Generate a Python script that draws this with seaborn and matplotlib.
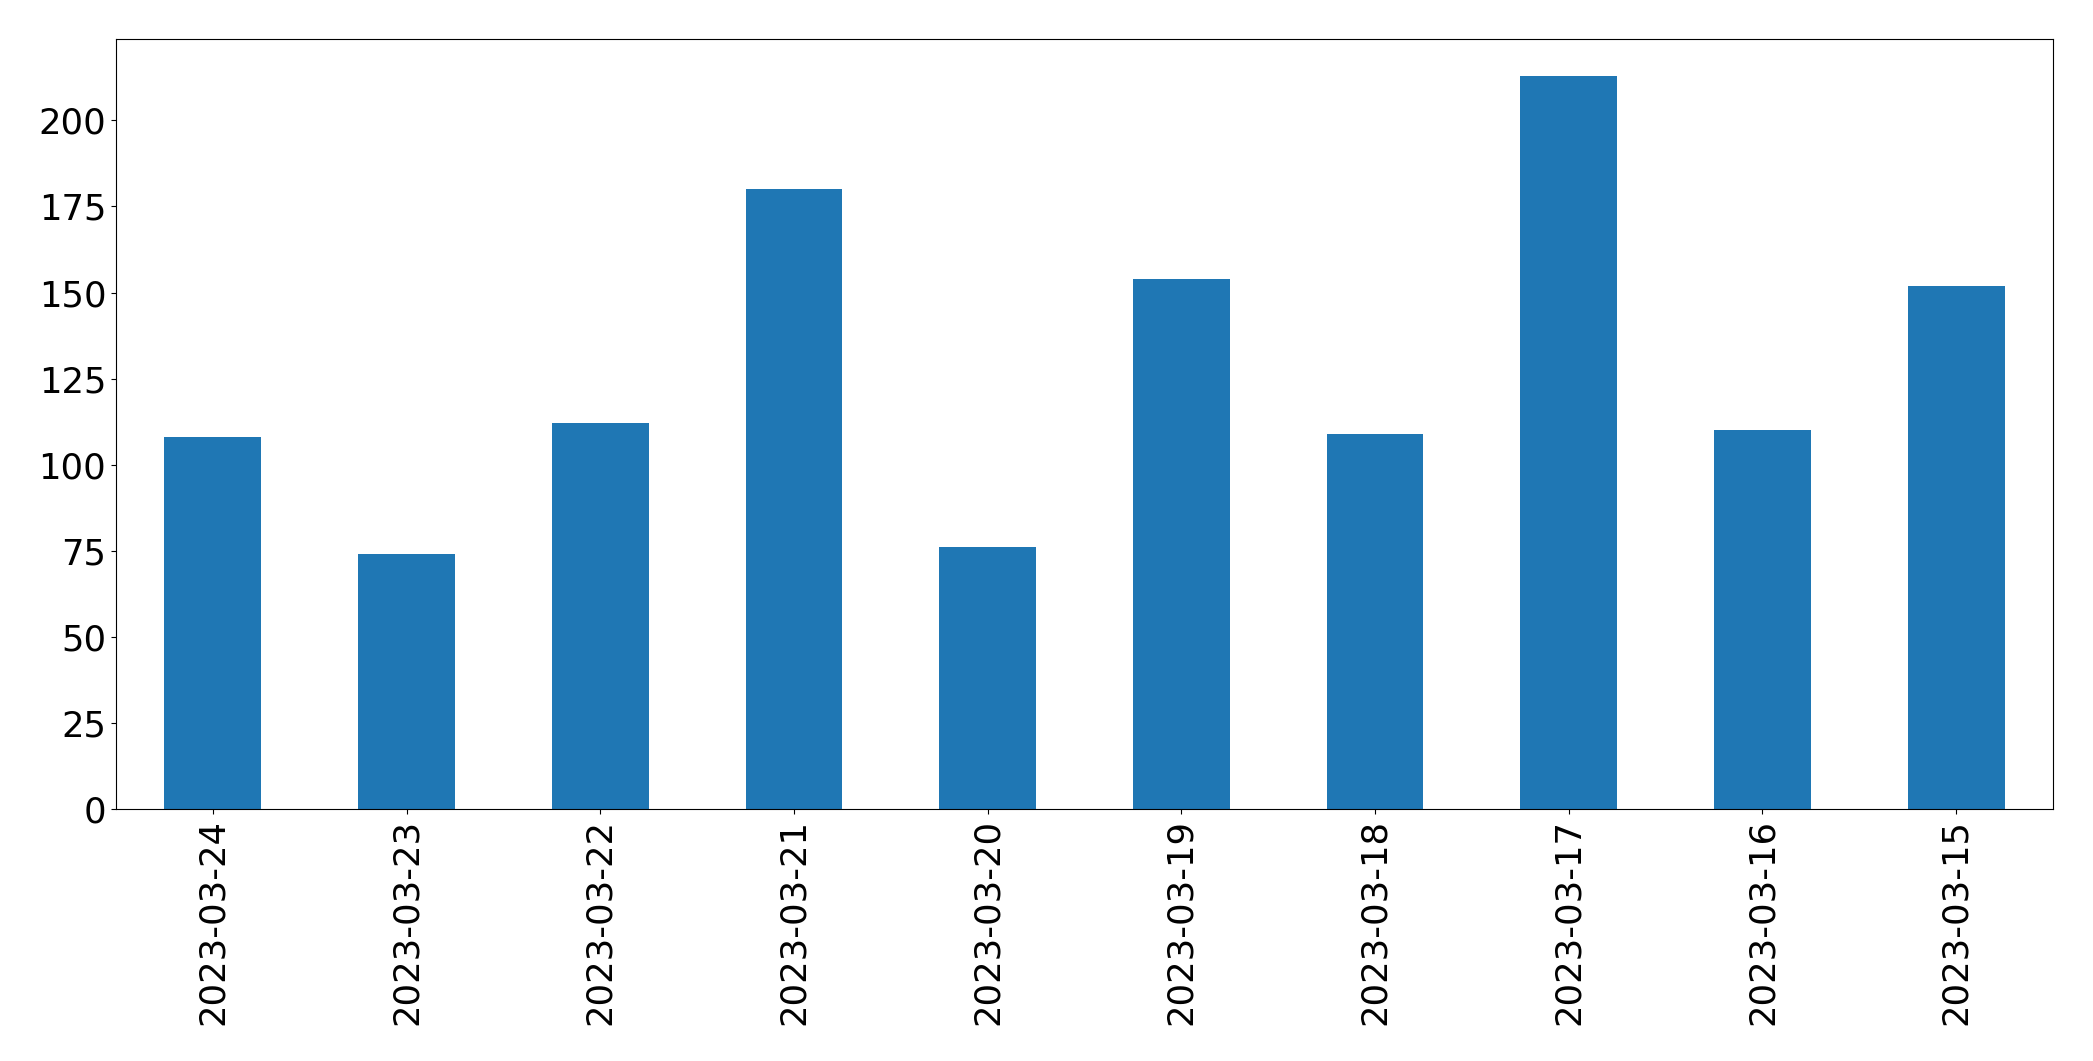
import matplotlib
matplotlib.use("Agg")
import matplotlib.pyplot as plt
import seaborn as sns
import pandas as pd

dates = ["2023-03-24", "2023-03-23", "2023-03-22", "2023-03-21", "2023-03-20",
         "2023-03-19", "2023-03-18", "2023-03-17", "2023-03-16", "2023-03-15"]
counts = [108, 74, 112, 180, 76, 154, 109, 213, 110, 152]

df = pd.DataFrame({"date": dates, "count": counts})

fig = plt.figure(figsize=(20.93, 10.61), dpi=100)
ax = fig.add_axes([116 / 2093, 1 - 809 / 1061, (2053 - 116) / 2093, (809 - 39) / 1061])

sns.barplot(data=df, x="date", y="count", order=dates, color="#1f77b4",
            saturation=1, width=0.5, ax=ax, errorbar=None, linewidth=0)

ax.set_xlim(-0.5, len(dates) - 0.5)
ax.set_ylim(0, max(counts) * 1.05)
ax.set_xlabel("")
ax.set_ylabel("")
ax.tick_params(axis="both", labelsize=25.5)
ax.tick_params(axis="x", labelrotation=90)
for s in ax.spines.values():
    s.set_visible(True)
    s.set_color("black")
    s.set_linewidth(0.8)

fig.savefig("out.png", dpi=100)
